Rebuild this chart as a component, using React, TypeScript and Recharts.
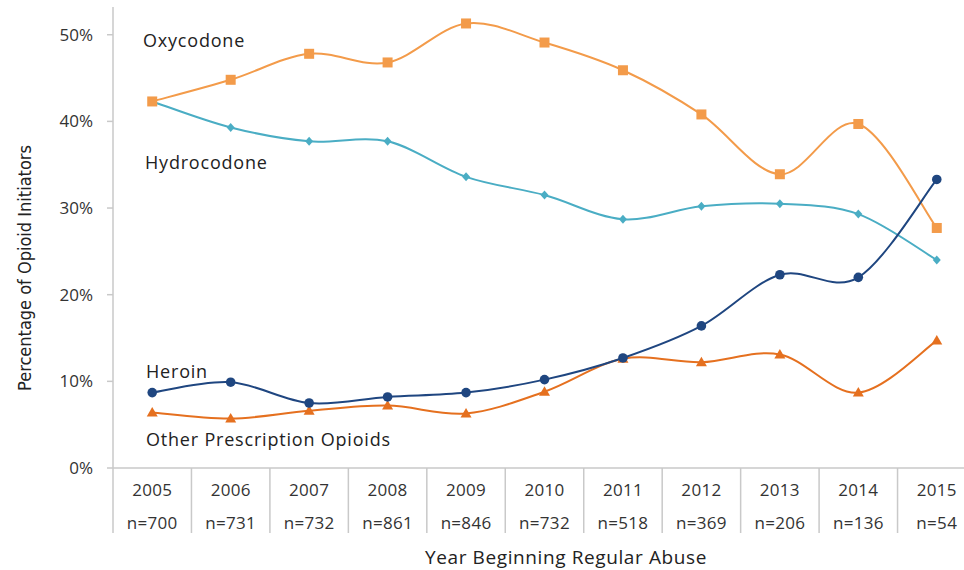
import React from "react";
import { LineChart, Line, XAxis, YAxis, Customized } from "recharts";

// Share of opioid initiators by year of beginning regular abuse
const years = ["2005", "2006", "2007", "2008", "2009", "2010", "2011", "2012", "2013", "2014", "2015"];
const sampleSizes = ["n=700", "n=731", "n=732", "n=861", "n=846", "n=732", "n=518", "n=369", "n=206", "n=136", "n=54"];
const oxycodone = [42.3, 44.8, 47.8, 46.8, 51.3, 49.1, 45.9, 40.8, 33.9, 39.7, 27.7];
const hydrocodone = [42.3, 39.3, 37.7, 37.7, 33.6, 31.5, 28.7, 30.2, 30.5, 29.3, 24.0];
const heroin = [8.7, 9.9, 7.5, 8.2, 8.7, 10.2, 12.7, 16.4, 22.3, 22.0, 33.3];
const otherOpioids = [6.4, 5.7, 6.6, 7.2, 6.3, 8.8, 12.6, 12.2, 13.1, 8.7, 14.7];
const yTicks = [0, 10, 20, 30, 40, 50];

const data = years.map((year, i) => ({
  year,
  n: sampleSizes[i],
  oxycodone: oxycodone[i],
  hydrocodone: hydrocodone[i],
  heroin: heroin[i],
  other: otherOpioids[i],
}));

const COLORS = {
  oxycodone: "#F39B4A",
  hydrocodone: "#4AADC4",
  heroin: "#1F4680",
  other: "#E5701F",
};

const FONT = "'Open Sans', 'Noto Sans', sans-serif";
const AXIS_GRAY = "#C9C9C9";

const CHART_W = 980;
const CHART_H = 570;
const MARGIN = { top: 7, right: 4, bottom: 0, left: 0 };
const Y_AXIS_W = 113;
const X_AXIS_H = 102;
const HALF_BAND = (CHART_W - MARGIN.left - MARGIN.right - Y_AXIS_W) / years.length / 2;

// Excel-style smoothed line (uniform Catmull-Rom as cubic Beziers)
function smoothCurve(context: any) {
  let pts: number[][] = [];
  return {
    areaStart() {},
    areaEnd() {},
    lineStart() {
      pts = [];
    },
    point(x: number, y: number) {
      pts.push([+x, +y]);
    },
    lineEnd() {
      if (!pts.length) return;
      context.moveTo(pts[0][0], pts[0][1]);
      for (let i = 0; i < pts.length - 1; i++) {
        const p0 = pts[i - 1] || pts[i];
        const p1 = pts[i];
        const p2 = pts[i + 1];
        const p3 = pts[i + 2] || pts[i + 1];
        context.bezierCurveTo(
          p1[0] + (p2[0] - p0[0]) / 6,
          p1[1] + (p2[1] - p0[1]) / 6,
          p2[0] - (p3[0] - p1[0]) / 6,
          p2[1] - (p3[1] - p1[1]) / 6,
          p2[0],
          p2[1]
        );
      }
    },
  };
}

const SquareDot = (props: any) => {
  const { cx, cy, index } = props;
  if (cx == null || cy == null) return <g key={`sq-${index}`} />;
  return <rect key={`sq-${index}`} x={cx - 5} y={cy - 5} width={10} height={10} fill={COLORS.oxycodone} />;
};

const DiamondDot = (props: any) => {
  const { cx, cy, index } = props;
  if (cx == null || cy == null) return <g key={`dm-${index}`} />;
  return (
    <path
      key={`dm-${index}`}
      d={`M${cx},${cy - 4.5} L${cx + 4},${cy} L${cx},${cy + 4.5} L${cx - 4},${cy} Z`}
      fill={COLORS.hydrocodone}
    />
  );
};

const CircleDot = (props: any) => {
  const { cx, cy, index } = props;
  if (cx == null || cy == null) return <g key={`ci-${index}`} />;
  return <circle key={`ci-${index}`} cx={cx} cy={cy} r={4.8} fill={COLORS.heroin} />;
};

const TriangleDot = (props: any) => {
  const { cx, cy, index } = props;
  if (cx == null || cy == null) return <g key={`tr-${index}`} />;
  return (
    <path
      key={`tr-${index}`}
      d={`M${cx},${cy - 5.5} L${cx + 5.5},${cy + 4} L${cx - 5.5},${cy + 4} Z`}
      fill={COLORS.other}
    />
  );
};

const YearTick = (props: any) => {
  const { x, y, payload, index } = props;
  const i = years.indexOf(payload.value);
  return (
    <g>
      <text x={x} y={y + 28} textAnchor="middle" fontFamily={FONT} fontSize={17} letterSpacing={0.3} fill="#333">
        {payload.value}
      </text>
      <text x={x} y={y + 61} textAnchor="middle" fontFamily={FONT} fontSize={17} letterSpacing={0.3} fill="#333">
        {sampleSizes[i]}
      </text>
      {index === 0 && <line x1={x - HALF_BAND} y1={y} x2={x - HALF_BAND} y2={y + 65} stroke={AXIS_GRAY} strokeWidth={1.5} />}
      <line x1={x + HALF_BAND} y1={y} x2={x + HALF_BAND} y2={y + 65} stroke={AXIS_GRAY} strokeWidth={1.5} />
    </g>
  );
};

const PercentTick = (props: any) => {
  const { x, y, payload } = props;
  return (
    <text x={x} y={y + 6} textAnchor="end" fontFamily={FONT} fontSize={17} fill="#333">
      {`${payload.value}%`}
    </text>
  );
};

const Annotations = () => (
  <g fontFamily={FONT} fill="#222">
    <text x={143} y={47} fontSize={18} letterSpacing={0.8}>Oxycodone</text>
    <text x={145} y={169} fontSize={18} letterSpacing={0.8}>Hydrocodone</text>
    <text x={146} y={378} fontSize={18} letterSpacing={0.8}>Heroin</text>
    <text x={146} y={446} fontSize={18} letterSpacing={0.8}>Other Prescription Opioids</text>
    <text x={566} y={564} fontSize={19} letterSpacing={0.6} textAnchor="middle" fill="#222">
      Year Beginning Regular Abuse
    </text>
    <text
      x={0}
      y={0}
      transform="translate(31,268) rotate(-90)"
      textAnchor="middle"
      fontSize={18}
      fontFamily="'Liberation Sans Narrow', 'DejaVu Sans Condensed', sans-serif"
      fill="#222"
    >
      Percentage of Opioid Initiators
    </text>
  </g>
);

export default function App() {
  return (
    <div style={{ position: "absolute", left: 0, top: 0, width: 964, height: 570, overflow: "hidden", background: "#fff" }}>
      <LineChart width={CHART_W} height={CHART_H} data={data} margin={MARGIN}>
        <XAxis
          dataKey="year"
          height={X_AXIS_H}
          tick={<YearTick />}
          tickLine={false}
          tickSize={0}
          tickMargin={0}
          padding={{ left: HALF_BAND, right: HALF_BAND }}
          axisLine={{ stroke: AXIS_GRAY, strokeWidth: 1.5 }}
          interval={0}
        />
        <YAxis
          width={Y_AXIS_W}
          domain={[0, 53.2]}
          ticks={yTicks}
          tick={<PercentTick />}
          tickSize={6}
          tickMargin={14}
          tickLine={{ stroke: AXIS_GRAY, strokeWidth: 1.5 }}
          axisLine={{ stroke: AXIS_GRAY, strokeWidth: 1.5 }}
          allowDataOverflow
        />
        <Line dataKey="hydrocodone" type={smoothCurve as any} stroke={COLORS.hydrocodone} strokeWidth={2} dot={DiamondDot} activeDot={false} isAnimationActive={false} />
        <Line dataKey="oxycodone" type={smoothCurve as any} stroke={COLORS.oxycodone} strokeWidth={2} dot={SquareDot} activeDot={false} isAnimationActive={false} />
        <Line dataKey="other" type={smoothCurve as any} stroke={COLORS.other} strokeWidth={2} dot={TriangleDot} activeDot={false} isAnimationActive={false} />
        <Line dataKey="heroin" type={smoothCurve as any} stroke={COLORS.heroin} strokeWidth={2} dot={CircleDot} activeDot={false} isAnimationActive={false} />
        <Customized component={Annotations} />
      </LineChart>
    </div>
  );
}
